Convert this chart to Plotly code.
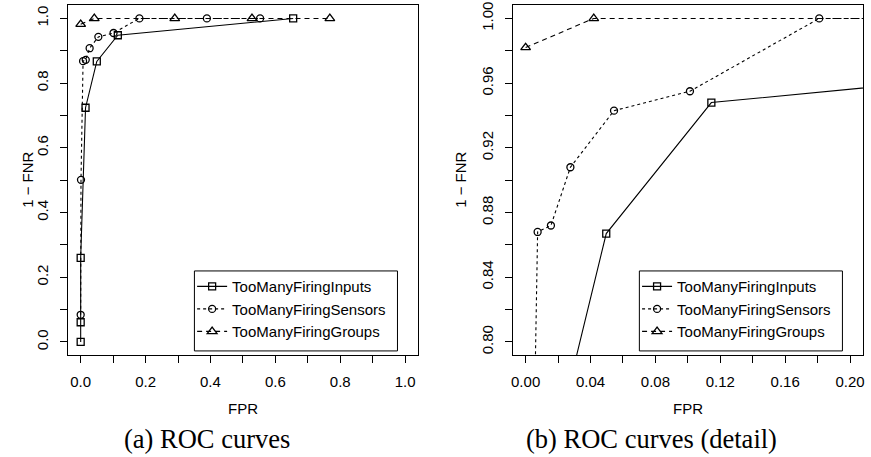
import plotly.graph_objects as go

# ROC points (FPR, 1 - FNR) for the three detectors
inputs_fpr = [0.0, 0.0, 0.0, 0.015, 0.0497, 0.1145, 0.655]
inputs_tpr = [0.0, 0.061, 0.26, 0.724, 0.867, 0.948, 1.0]

sensors_fpr = [0.0, 0.001, 0.0074, 0.0156, 0.0276, 0.0545, 0.1013, 0.181, 0.389, 0.553]
sensors_tpr = [0.084, 0.501, 0.868, 0.872, 0.908, 0.943, 0.955, 1.0, 1.0, 1.0]

groups_fpr = [0.0, 0.042, 0.29, 0.528, 0.768]
groups_tpr = [0.982, 1.0, 1.0, 1.0, 1.0]

series_names = ["TooManyFiringInputs", "TooManyFiringSensors", "TooManyFiringGroups"]

# tick positions and labels (every other tick labelled, as in base R graphics)
full_ticks = [0.0, 0.1, 0.2, 0.3, 0.4, 0.5, 0.6, 0.7, 0.8, 0.9, 1.0]
full_x_labels = ["0.0", "", "0.2", "", "0.4", "", "0.6", "", "0.8", "", "1.0"]
full_y_labels = ["0.0", "", "0.2", "", "0.4", "", "0.6", "", "0.8", "", "1.0"]
detail_x_ticks = [0.0, 0.02, 0.04, 0.06, 0.08, 0.10, 0.12, 0.14, 0.16, 0.18, 0.20]
detail_x_labels = ["0.00", "", "0.04", "", "0.08", "", "0.12", "", "0.16", "", "0.20"]
detail_y_ticks = [0.80, 0.82, 0.84, 0.86, 0.88, 0.90, 0.92, 0.94, 0.96, 0.98, 1.00]
detail_y_labels = ["0.80", "", "0.84", "", "0.88", "", "0.92", "", "0.96", "", "1.00"]

captions = ["(a) ROC curves", "(b) ROC curves (detail)"]

W, H = 871, 457
SANS = "Liberation Sans, Arial, Helvetica, sans-serif"
SERIF = "Liberation Serif, Times New Roman, serif"
FS = 15

styles = [
    dict(symbol="square-open", dash="solid", size=7),
    dict(symbol="circle-open", dash="3px,3px", size=7),
    dict(symbol="triangle-up-open", dash="5px,4px", size=8.5),
]
data = [(inputs_fpr, inputs_tpr), (sensors_fpr, sensors_tpr), (groups_fpr, groups_tpr)]

fig = go.Figure()
for panel, (xa, ya, leg) in enumerate([("x", "y", "legend"), ("x2", "y2", "legend2")]):
    for (xs, ys), name, st in zip(data, series_names, styles):
        fig.add_trace(go.Scatter(
            x=xs, y=ys, name=name, mode="lines+markers",
            xaxis=xa, yaxis=ya, legend=leg,
            line=dict(color="black", width=1.1, dash=st["dash"]),
            marker=dict(symbol=st["symbol"], size=st["size"], color="black",
                        line=dict(color="black", width=1.3)),
        ))


def px_x(p):
    return p / W


def px_y(p):
    return 1 - p / H


ydom = [px_y(354), px_y(1.5)]
axis_common = dict(
    showline=True, mirror=True, linecolor="black", linewidth=1,
    ticks="outside", ticklen=7, tickwidth=1, tickcolor="black",
    showgrid=False, zeroline=False,
    tickfont=dict(family=SANS, size=FS, color="black"),
    ticklabelstandoff=6, ticklabeloverflow="allow",
)

fig.update_layout(
    width=W, height=H,
    margin=dict(l=0, r=0, t=0, b=0),
    paper_bgcolor="white", plot_bgcolor="white",
    xaxis=dict(domain=[px_x(66), px_x(418)], anchor="y", range=[-0.04, 1.04],
               tickmode="array", tickvals=full_ticks, ticktext=full_x_labels, **axis_common),
    yaxis=dict(domain=ydom, anchor="x", range=[-0.04, 1.04], tickangle=-90,
               tickmode="array", tickvals=full_ticks, ticktext=full_y_labels, **axis_common),
    xaxis2=dict(domain=[px_x(513), px_x(865)], anchor="y2", range=[-0.008, 0.208],
                tickmode="array", tickvals=detail_x_ticks, ticktext=detail_x_labels, **axis_common),
    yaxis2=dict(domain=ydom, anchor="x2", range=[0.792, 1.008], tickangle=-90,
                tickmode="array", tickvals=detail_y_ticks, ticktext=detail_y_labels, **axis_common),
    showlegend=True,
)

legend_common = dict(
    xanchor="left", yanchor="top", bgcolor="rgba(0,0,0,0)", borderwidth=0,
    font=dict(family=SANS, size=FS, color="black"), tracegroupgap=0, itemwidth=30,
)
fig.update_layout(
    legend=dict(x=px_x(191), y=px_y(268.5), **legend_common),
    legend2=dict(x=px_x(638), y=px_y(268.5), **legend_common),
)

# legend frames
for x0, x1 in [(193.3, 397.3), (640.3, 844.3)]:
    fig.add_shape(type="rect", xref="paper", yref="paper",
                  x0=px_x(x0), x1=px_x(x1), y0=px_y(350), y1=px_y(269.3),
                  line=dict(color="black", width=1), fillcolor="rgba(0,0,0,0)")

# axis titles and sub-figure captions
ann = []
for cx, ylab_x in [(242, 26), (689, 461)]:
    ann.append(dict(text="FPR", x=px_x(cx), y=px_y(408), xref="paper", yref="paper",
                    showarrow=False, xanchor="center", yanchor="middle",
                    font=dict(family=SANS, size=FS, color="black")))
    ann.append(dict(text="1 \u2212 FNR", x=px_x(ylab_x), y=px_y(177.5), xref="paper", yref="paper",
                    showarrow=False, xanchor="center", yanchor="middle", textangle=-90,
                    font=dict(family=SANS, size=FS, color="black")))
for cap, cx in zip(captions, [206, 652.5]):
    ann.append(dict(text=cap, x=px_x(cx), y=px_y(439), xref="paper", yref="paper",
                    showarrow=False, xanchor="center", yanchor="middle",
                    font=dict(family=SERIF, size=26.5, color="black")))
fig.update_layout(annotations=ann)

fig.write_html("out.html")
